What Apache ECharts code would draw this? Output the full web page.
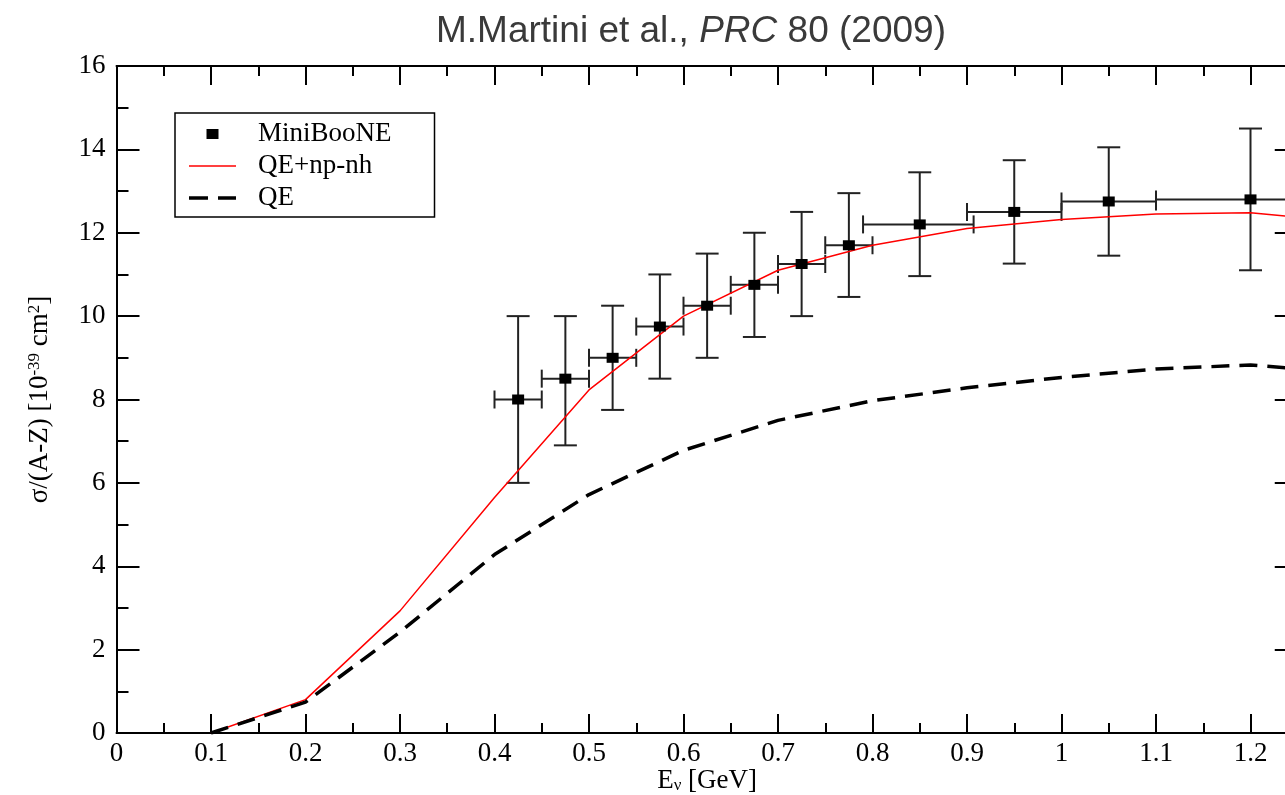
<!DOCTYPE html>
<html>
<head>
<meta charset="utf-8">
<script src="https://cdn.jsdelivr.net/npm/echarts@6/dist/echarts.min.js"></script>
<style>
html,body{margin:0;padding:0;background:#fff;}
#chart{width:1285px;height:795px;}
</style>
</head>
<body>
<div id="chart"></div>
<script>
// ---- data ----
const mbX = [0.425, 0.475, 0.525, 0.575, 0.625, 0.675, 0.725, 0.775, 0.85, 0.95, 1.05, 1.2];
const mbY = [8.0, 8.5, 9.0, 9.75, 10.25, 10.75, 11.25, 11.7, 12.2, 12.5, 12.75, 12.8];
const mbYErrLow  = [2.0, 1.6, 1.25, 1.25, 1.25, 1.25, 1.25, 1.24, 1.24, 1.24, 1.3, 1.7];
const mbYErrHigh = [2.0, 1.5, 1.25, 1.25, 1.25, 1.25, 1.25, 1.25, 1.25, 1.24, 1.3, 1.7];
const mbXErrLow  = [0.025, 0.025, 0.025, 0.025, 0.025, 0.025, 0.025, 0.025, 0.06, 0.05, 0.05, 0.1];
const mbXErrHigh = [0.025, 0.025, 0.025, 0.025, 0.025, 0.025, 0.025, 0.025, 0.057, 0.05, 0.05, 0.1];

const curveX = [0.1, 0.2, 0.3, 0.4, 0.5, 0.6, 0.7, 0.8, 0.9, 1.0, 1.1, 1.2, 1.25];
const qeNpNhY = [0, 0.8, 2.93, 5.65, 8.23, 10.0, 11.1, 11.7, 12.1, 12.32, 12.45, 12.48, 12.37];
const qeY = [0, 0.74, 2.42, 4.28, 5.72, 6.78, 7.5, 7.97, 8.28, 8.53, 8.73, 8.83, 8.74];

const xMin = 0, xMax = 1.25, xMajor = 0.1, xMinor = 0.05;
const yMin = 0, yMax = 16, yMajor = 2;

const seriesNames = ['MiniBooNE', 'QE+np-nh', 'QE'];
const titleParts = ['M.Martini et al., ', 'PRC', ' 80 (2009)'];

// ---- chart ----
const serif = 'Liberation Serif';
const sans = 'Liberation Sans';

const mbPoints = mbX.map((x, i) => [x, mbY[i]]);
const mbErr = mbX.map((x, i) => [x, mbY[i], mbXErrLow[i], mbXErrHigh[i], mbYErrLow[i], mbYErrHigh[i]]);
const redPts = curveX.map((x, i) => [x, qeNpNhY[i]]);
const qePts = curveX.map((x, i) => [x, qeY[i]]);

const chart = echarts.init(document.getElementById('chart'), null, {renderer: 'canvas'});

function xAxisDef(pos, interval, tickLen, labels, line) {
  return {
    type: 'value', position: pos, min: xMin, max: xMax, interval: interval,
    axisLine: {show: line, onZero: false, lineStyle: {color: '#000', width: 2}},
    axisTick: {show: true, inside: true, length: tickLen, lineStyle: {color: '#000', width: 2}},
    axisLabel: {show: labels, showMaxLabel: false, hideOverlap: false, margin: 7, fontFamily: serif, fontSize: 27, color: '#000'},
    splitLine: {show: false}
  };
}
function yAxisDef(pos, labels) {
  return {
    type: 'value', position: pos, min: yMin, max: yMax, interval: yMajor,
    axisLine: {show: true, onZero: false, lineStyle: {color: '#000', width: 2}},
    axisTick: {show: true, inside: true, length: 23, lineStyle: {color: '#000', width: 2}},
    minorTick: {show: true, splitNumber: 2, length: 12, lineStyle: {color: '#000', width: 2}},
    axisLabel: {show: labels, hideOverlap: false, margin: 11, fontFamily: serif, fontSize: 27, color: '#000'},
    splitLine: {show: false}
  };
}

const xAxes = [
  xAxisDef('bottom', xMajor, 19, true, true),
  xAxisDef('bottom', xMinor, 10, false, false),
  xAxisDef('top', xMajor, 19, false, true),
  xAxisDef('top', xMinor, 10, false, false)
];
xAxes[0].name = '{b|E}{s|ν}{b| [GeV]}';
xAxes[0].nameLocation = 'middle';
xAxes[0].nameGap = 34;
xAxes[0].nameMoveOverlap = false;
xAxes[0].nameTextStyle = {
  rich: {
    b: {fontFamily: serif, fontSize: 27, lineHeight: 27, color: '#000', verticalAlign: 'top'},
    s: {fontFamily: serif, fontSize: 17, lineHeight: 17, color: '#000', verticalAlign: 'bottom', padding: [22, 0, 0, 0]}
  }
};

const yAxes = [yAxisDef('left', true), yAxisDef('right', false)];
yAxes[0].name = '{b|σ/(A-Z) [10}{p|-39}{b| cm}{p|2}{b|]}';
yAxes[0].nameLocation = 'middle';
yAxes[0].nameGap = 63;
yAxes[0].nameMoveOverlap = false;
yAxes[0].nameTextStyle = {
  rich: {
    b: {fontFamily: serif, fontSize: 27, lineHeight: 27, color: '#000', verticalAlign: 'bottom'},
    p: {fontFamily: serif, fontSize: 17, lineHeight: 17, color: '#000', verticalAlign: 'top', padding: [0, 0, 27, 0]}
  }
};

const option = {
  animation: false,
  backgroundColor: '#fff',
  title: {
    text: '{n|' + titleParts[0] + '}{i|' + titleParts[1] + '}{n|' + titleParts[2] + '}',
    left: 431, top: 8,
    textStyle: {
      fontWeight: 'normal', fontFamily: sans, fontSize: 37, color: '#3a3a3a',
      rich: {
        n: {fontFamily: sans, fontSize: 37, fontWeight: 'normal', color: '#3a3a3a'},
        i: {fontFamily: sans, fontSize: 37, fontWeight: 'normal', fontStyle: 'italic', color: '#3a3a3a'}
      }
    }
  },
  grid: {left: 116.5, top: 66, width: 1181.25, height: 667, containLabel: false, outerBoundsMode: 'none'},
  legend: {
    orient: 'vertical', left: 175, top: 113,
    padding: [6, 43, 4, 14],
    itemWidth: 47, itemHeight: 10, itemGap: 2,
    borderColor: '#000', borderWidth: 1.5, backgroundColor: '#fff',
    textStyle: {fontFamily: serif, fontSize: 27, lineHeight: 30, color: '#000', padding: [0, 0, 0, 17]},
    data: [
      {name: seriesNames[0], icon: 'path://M0,0 L12,0 L12,10 L0,10 Z', itemStyle: {color: '#000', opacity: 1}},
      {name: seriesNames[1], icon: 'path://M0,0 L47,0 L47,1.5 L0,1.5 Z', itemStyle: {color: '#ff0000'}},
      {name: seriesNames[2], icon: 'path://M0,0 L19,0 L19,3.5 L0,3.5 Z M29,0 L47,0 L47,3.5 L29,3.5 Z', itemStyle: {color: '#000'}}
    ]
  },
  xAxis: xAxes,
  yAxis: yAxes,
  series: [
    {
      name: seriesNames[0] + ' err', type: 'custom', xAxisIndex: 0, yAxisIndex: 0, z: 2,
      data: mbErr, silent: true,
      renderItem: function (params, api) {
        const x = api.value(0), y = api.value(1);
        const xl = api.value(2), xh = api.value(3), yl = api.value(4), yh = api.value(5);
        const pL = api.coord([x - xl, y]), pR = api.coord([x + xh, y]);
        const pT = api.coord([x, y + yh]), pB = api.coord([x, y - yl]);
        const st = {stroke: '#222', lineWidth: 2};
        const capW = 11.5, capH = 9;
        const mk = (x1, y1, x2, y2) => ({type: 'line', shape: {x1, y1, x2, y2}, style: st});
        return {type: 'group', children: [
          mk(pL[0], pL[1], pR[0], pR[1]),
          mk(pL[0], pL[1] - capH, pL[0], pL[1] + capH),
          mk(pR[0], pR[1] - capH, pR[0], pR[1] + capH),
          mk(pT[0], pT[1], pB[0], pB[1]),
          mk(pT[0] - capW, pT[1], pT[0] + capW, pT[1]),
          mk(pB[0] - capW, pB[1], pB[0] + capW, pB[1])
        ]};
      }
    },
    {
      name: seriesNames[1], type: 'line', xAxisIndex: 0, yAxisIndex: 0, z: 3,
      data: redPts, symbol: 'none', showSymbol: false,
      lineStyle: {color: '#ff0000', width: 1.5}, itemStyle: {color: '#ff0000'}
    },
    {
      name: seriesNames[2], type: 'line', xAxisIndex: 0, yAxisIndex: 0, z: 3,
      data: qePts, symbol: 'none', showSymbol: false,
      lineStyle: {color: '#000', width: 3.5, type: [18, 10]}, itemStyle: {color: '#000'}
    },
    {
      name: seriesNames[0], type: 'scatter', xAxisIndex: 0, yAxisIndex: 0, z: 4,
      data: mbPoints, symbol: 'rect', symbolSize: [12, 10],
      itemStyle: {color: '#000', opacity: 1}
    }
  ]
};
chart.setOption(option);
</script>
</body>
</html>
